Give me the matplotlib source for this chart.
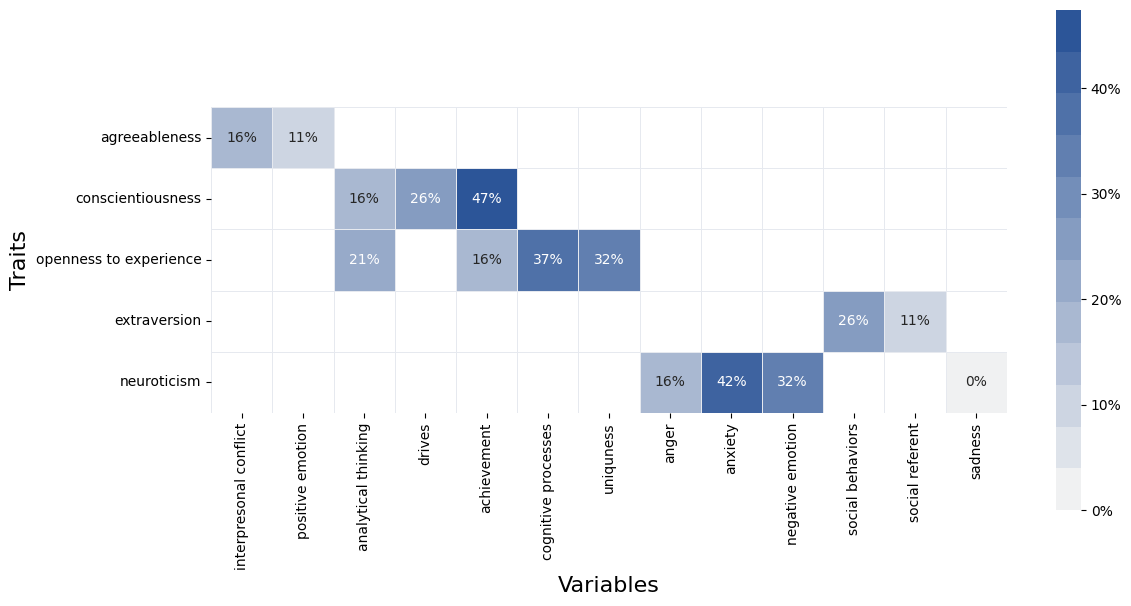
import numpy as np
import pandas as pd
import matplotlib
matplotlib.use("Agg")
import matplotlib.pyplot as plt
import seaborn as sns
from matplotlib.colors import ListedColormap
from matplotlib.ticker import FuncFormatter

traits = ["agreeableness", "conscientiousness", "openness to experience",
          "extraversion", "neuroticism"]
variables = ["interpresonal conflict", "positive emotion", "analytical thinking",
             "drives", "achievement", "cognitive processes", "uniquness", "anger",
             "anxiety", "negative emotion", "social behaviors", "social referent",
             "sadness"]
nan = np.nan
agreeableness = [0.158, 0.1053, nan, nan, nan, nan, nan, nan, nan, nan, nan, nan, nan]
conscientiousness = [nan, nan, 0.158, 0.263, 0.474, nan, nan, nan, nan, nan, nan, nan, nan]
openness = [nan, nan, 0.211, nan, 0.158, 0.368, 0.316, nan, nan, nan, nan, nan, nan]
extraversion = [nan, nan, nan, nan, nan, nan, nan, nan, nan, nan, 0.263, 0.1053, nan]
neuroticism = [nan, nan, nan, nan, nan, nan, nan, 0.158, 0.421, 0.316, nan, nan, 0.0]

df = pd.DataFrame([agreeableness, conscientiousness, openness, extraversion, neuroticism],
                  index=traits, columns=variables)

cmap = ListedColormap(sns.light_palette("#2c5598", n_colors=12))
linecol = "#e6e9ef"

fig = plt.figure(figsize=(11.31, 6.06), dpi=100)
W, H = 1131, 606
ax = fig.add_axes([211 / W, (H - 413) / H, 796 / W, 306 / H])
cax = fig.add_axes([1056 / W, (H - 510) / H, 25 / W, 500 / H])

# background grid of all cells
nr, nc = df.shape
ax.pcolormesh(np.arange(nc + 1), np.arange(nr + 1), np.zeros((nr, nc)),
              cmap=ListedColormap(["white"]), edgecolors=linecol, linewidth=0.7)

sns.heatmap(df, ax=ax, cbar_ax=cax, cmap=cmap, vmin=0, vmax=0.474,
            annot=True, fmt=".0%", annot_kws={"fontsize": 10},
            linewidths=0.7, linecolor=linecol, square=True)
ax.set_position([211 / W, (H - 413) / H, 796 / W, 306 / H])

ax.set_xlabel("Variables", fontsize=16)
ax.set_ylabel("Traits", fontsize=16)
ax.tick_params(axis="both", labelsize=10)
ax.set_xticklabels(variables, rotation=90)
ax.set_yticklabels(traits, rotation=0)

cax.yaxis.set_major_formatter(FuncFormatter(lambda v, p: f"{v:.0%}"))
cax.set_yticks([0, 0.1, 0.2, 0.3, 0.4])
cax.tick_params(labelsize=10)
for s in cax.spines.values():
    s.set_visible(False)

fig.savefig("out.png", dpi=100)
